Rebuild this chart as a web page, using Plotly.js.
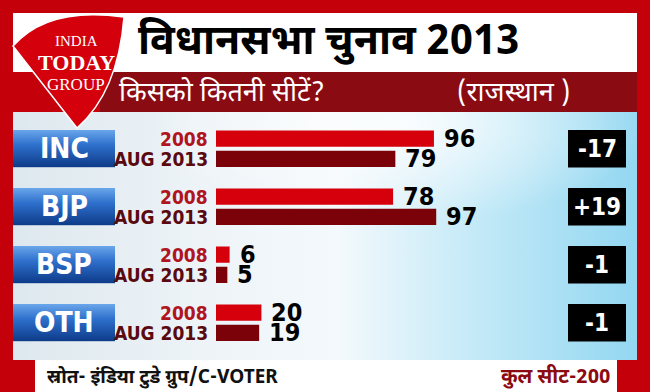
<!DOCTYPE html>
<html><head><meta charset="utf-8">
<script src="https://cdn.plot.ly/plotly-3.0.1.min.js"></script>
<style>html,body{margin:0;padding:0;background:#c4000b;overflow:hidden}#chart{width:650px;height:392px}</style>
</head><body><div id="chart"></div>
<script>
// ---- data ----
const parties = ['INC', 'BJP', 'BSP', 'OTH'];
const seriesNames = ['2008', 'AUG 2013'];
const seats2008 = [96, 78, 6, 20];
const seatsAug2013 = [79, 97, 5, 19];
const titleText = 'विधानसभा चुनाव 2013';
const subtitleText = 'किसको कितनी सीटें?';
const stateText = '(राजस्थान )';
const sourceText = 'स्रोत- इंडिया टुडे ग्रुप/C-VOTER';
const totalText = 'कुल सीट-200';
const logoLines = ['INDIA', 'TODAY', 'GROUP'];

// ---- helpers ----
const W = 650, H = 392;
const px = x => x / W, py = y => 1 - y / H;
const svgUri = s => 'data:image/svg+xml;charset=utf-8,' + encodeURIComponent(s);
const COND = 'DejaVu Sans Condensed, Liberation Sans Narrow, sans-serif';
const DEVA = 'Noto Sans Devanagari, Lohit Devanagari, Noto Sans, FreeSans, sans-serif';
const SERIF = 'Liberation Serif, DejaVu Serif, serif';

const series = [seats2008, seatsAug2013];
const barColors = ['#d6000c', '#7a0208'];
const labelColors = ['#b0141e', '#5a0a0f'];
const firstCenter = 148.7, step = 58;
const half = 29;
const subOff = 10.15;

const traces = series.map((vals, t) => ({
  type: 'bar', orientation: 'h', name: seriesNames[t],
  y: parties, x: vals,
  marker: {color: barColors[t], line: {width: 0}},
  hoverinfo: 'skip'
}));

const bgSvg = `<svg xmlns="http://www.w3.org/2000/svg" width="624" height="248" viewBox="0 0 624 248" preserveAspectRatio="none">
<defs><linearGradient id="g" x1="0" y1="0" x2="1" y2="0">
<stop offset="0" stop-color="#dde8ee"/><stop offset="0.3" stop-color="#edf3f7"/><stop offset="0.52" stop-color="#f4f9fc"/><stop offset="0.75" stop-color="#c2e9f7"/><stop offset="1" stop-color="#93d7f1"/></linearGradient>
<radialGradient id="r" cx="0.62" cy="0.05" r="0.4"><stop offset="0" stop-color="#ffffff" stop-opacity="0.85"/><stop offset="1" stop-color="#ffffff" stop-opacity="0"/></radialGradient></defs>
<rect width="624" height="248" fill="url(#g)"/><rect width="624" height="248" fill="url(#r)"/></svg>`;

const boxSvg = `<svg xmlns="http://www.w3.org/2000/svg" width="102" height="37" viewBox="0 0 102 37" preserveAspectRatio="none">
<defs><linearGradient id="b" x1="0" y1="0" x2="0" y2="1">
<stop offset="0" stop-color="#6aa6ea"/><stop offset="0.4" stop-color="#2e70cc"/><stop offset="1" stop-color="#0d3a88"/></linearGradient></defs>
<rect width="102" height="37" fill="url(#b)"/></svg>`;

const images = [{
  source: svgUri(bgSvg), xref: 'paper', yref: 'paper',
  x: px(13), y: py(112), sizex: 624 / W, sizey: 248 / H,
  xanchor: 'left', yanchor: 'top', sizing: 'stretch', layer: 'below'
}];
parties.forEach((p, i) => {
  const cy = firstCenter + step * i;
  images.push({
    source: svgUri(boxSvg), xref: 'paper', yref: 'paper',
    x: px(13), y: py(cy - 18.7), sizex: 102 / W, sizey: 37.4 / H,
    xanchor: 'left', yanchor: 'top', sizing: 'stretch', layer: 'below'
  });
});

const rectPx = (x0, y0, x1, y1, fill, extra) => Object.assign({
  type: 'rect', xref: 'paper', yref: 'paper',
  x0: px(x0), x1: px(x1), y0: py(y1), y1: py(y0),
  fillcolor: fill, line: {width: 0}, layer: 'below'
}, extra || {});

const P = (x, y) => `${px(x)} ${py(y)}`;
const logoPath = `M ${P(77,128)} L ${P(13,46)} Q ${P(48,6)} ${P(124,17)} Q ${P(118,92)} ${P(77,128)} Z`;

const shapes = [
  rectPx(13, 13, 637, 72, '#ffffff'),
  rectPx(100, 72, 637, 112, '#8a0b12'),
  rectPx(35, 360, 617, 392, '#ffffff'),
  {type: 'path', xref: 'paper', yref: 'paper', path: logoPath,
   fillcolor: '#d4000c', line: {color: '#ffffff', width: 1.5}, layer: 'below'}
];
parties.forEach((p, i) => {
  shapes.push({type: 'rect', xref: 'paper', yref: 'y', x0: px(568), x1: px(626),
    y0: i - 0.323, y1: i + 0.323, fillcolor: '#000000', line: {width: 0}, layer: 'below'});
});

const ann = [];
const A = o => ann.push(Object.assign({showarrow: false}, o));
// header
A({xref: 'paper', yref: 'paper', x: px(136), y: py(44), xanchor: 'left', yanchor: 'middle',
   text: titleText, font: {family: DEVA, size: 41, color: '#000000', weight: 'bold'}});
A({xref: 'paper', yref: 'paper', x: px(117), y: py(94), xanchor: 'left', yanchor: 'middle',
   text: subtitleText, font: {family: DEVA, size: 27, color: '#ffffff'}});
A({xref: 'paper', yref: 'paper', x: px(455), y: py(94), xanchor: 'left', yanchor: 'middle',
   text: stateText, font: {family: DEVA, size: 27, color: '#ffffff'}});
// logo
const logoSizes = [15, 22, 17], logoY = [41, 62, 84];
logoLines.forEach((t, k) => A({xref: 'paper', yref: 'paper', x: px(76), y: py(logoY[k]),
   xanchor: 'center', yanchor: 'middle', text: t,
   font: {family: SERIF, size: logoSizes[k], color: '#ffffff', weight: k === 1 ? 'bold' : 'normal'}}));
// footer
A({xref: 'paper', yref: 'paper', x: px(45), y: py(378), xanchor: 'left', yanchor: 'middle',
   text: sourceText, font: {family: DEVA, size: 19, color: '#111111', weight: 'bold'}});
A({xref: 'paper', yref: 'paper', x: px(612), y: py(377), xanchor: 'right', yanchor: 'middle',
   text: totalText, font: {family: DEVA, size: 20, color: '#8c0a12', weight: 'bold'}});
// rows
parties.forEach((p, i) => {
  A({xref: 'paper', yref: 'y', x: px(64), y: p, xanchor: 'center', yanchor: 'middle',
     text: p, font: {family: COND, size: 28, color: '#ffffff', weight: 'bold'}});
  const diff = seatsAug2013[i] - seats2008[i];
  A({xref: 'paper', yref: 'y', x: px(597), y: p, xanchor: 'center', yanchor: 'middle',
     text: (diff > 0 ? '+' : '') + diff, font: {family: COND, size: 24, color: '#ffffff', weight: 'bold'}});
  series.forEach((vals, t) => {
    const ys = t === 0 ? subOff : -subOff;
    A({xref: 'x', yref: 'y', x: 0, y: p, xanchor: 'right', yanchor: 'middle', xshift: -6, yshift: ys,
       text: seriesNames[t], font: {family: COND, size: 19, color: labelColors[t], weight: 'bold'}});
    A({xref: 'x', yref: 'y', x: vals[i], y: p, xanchor: 'left', yanchor: 'middle', xshift: 8, yshift: ys,
       text: String(vals[i]), font: {family: COND, size: 25, color: '#000000', weight: 'bold'}});
  });
});

const layout = {
  width: W, height: H, margin: {l: 0, r: 0, t: 0, b: 0, pad: 0},
  paper_bgcolor: '#c4000b', plot_bgcolor: 'rgba(0,0,0,0)', showlegend: false,
  barmode: 'group', bargap: 0.3, bargroupgap: 0.195,
  xaxis: {domain: [px(216), px(636)], range: [0, 185], visible: false, fixedrange: true},
  yaxis: {domain: [py(firstCenter + step * 3 + half), py(firstCenter - half)], type: 'category',
          categoryorder: 'array', categoryarray: parties, range: [3.5, -0.5], visible: false, fixedrange: true},
  images: images, shapes: shapes, annotations: ann
};
Plotly.newPlot('chart', traces, layout, {staticPlot: true, displayModeBar: false});
</script></body></html>
